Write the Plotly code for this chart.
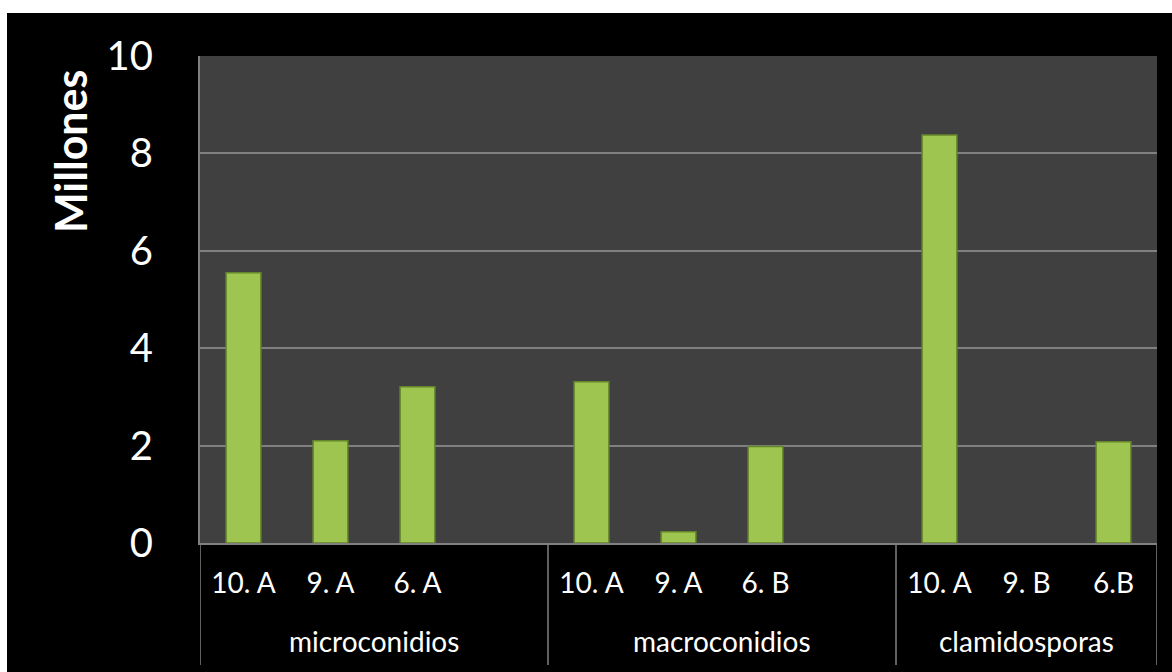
import plotly.graph_objects as go

# ---- data ----
groups = ["microconidios"] * 4 + ["macroconidios"] * 4 + ["clamidosporas"] * 3
labels = ["10. A", "9. A", "6. A", "",
          "10. A", "9. A", "6. B", "",
          "10. A", "9. B", "6.B"]
values = [5.55, 2.10, 3.21, None,
          3.31, 0.23, 1.98, None,
          8.38, None, 2.08]
y_title = "Millones"

# ---- layout geometry (px) ----
W, H = 1172, 672
L, R, T, B = 200, 15, 56, 129
PW, PH = W - L - R, H - T - B

def px_x(p):
    return (p - L) / PW

def px_y(p):
    return (H - B - p) / PH

FONT = "Lato"
GRAY = "#808080"

pos = list(range(len(labels)))

fig = go.Figure()
fig.add_trace(go.Bar(
    x=pos, y=values, width=0.4,
    marker=dict(color="#9EC54F", line=dict(color="#65852B", width=1.5)),
    hoverinfo="y",
))

# group boundaries and labels
shapes = []
annotations = []
start = 0
bounds = [-0.5]
for i in range(1, len(groups) + 1):
    if i == len(groups) or groups[i] != groups[start]:
        center = (start + i - 1) / 2
        annotations.append(dict(
            x=center, xref="x", y=px_y(641), yref="paper",
            text=groups[start], showarrow=False,
            font=dict(family=FONT, size=28, color="white"),
            xanchor="center", yanchor="middle"))
        bounds.append(i - 0.5)
        start = i
for b in bounds:
    shapes.append(dict(type="line", xref="x", yref="paper",
                       x0=b, x1=b, y0=0, y1=px_y(665),
                       line=dict(color=GRAY, width=1.5)))

# white frame strips (top and left)
shapes.append(dict(type="rect", xref="paper", yref="paper",
                   x0=px_x(-5), x1=px_x(W + 5), y0=px_y(13), y1=px_y(-5),
                   fillcolor="white", line=dict(width=0), layer="above"))
shapes.append(dict(type="rect", xref="paper", yref="paper",
                   x0=px_x(-5), x1=px_x(7), y0=px_y(H + 5), y1=px_y(-5),
                   fillcolor="white", line=dict(width=0), layer="above"))

annotations.append(dict(
    x=px_x(70), xref="paper", y=px_y(152), yref="paper",
    text="<b>" + y_title + "</b>", showarrow=False, textangle=-90,
    font=dict(family=FONT, size=43, color="white"),
    xanchor="center", yanchor="middle"))

fig.update_layout(
    width=W, height=H,
    margin=dict(l=L, r=R, t=T, b=B),
    paper_bgcolor="black",
    plot_bgcolor="#404040",
    showlegend=False,
    bargap=0.6,
    shapes=shapes,
    annotations=annotations,
    xaxis=dict(
        type="linear", range=[-0.5, len(labels) - 0.5],
        tickmode="array", tickvals=pos, ticktext=labels,
        showgrid=False, zeroline=False,
        showline=True, linecolor=GRAY, linewidth=2,
        ticks="", ticklabelstandoff=14,
        tickfont=dict(family=FONT, size=28, color="white"),
        fixedrange=True,
    ),
    yaxis=dict(
        range=[0, 10], dtick=2, tick0=0,
        showgrid=True, gridcolor=GRAY, gridwidth=2,
        zeroline=False,
        showline=True, linecolor=GRAY, linewidth=2,
        ticks="", ticklabelstandoff=37,
        tickfont=dict(family=FONT, size=40, color="white"),
        fixedrange=True,
    ),
)

fig.write_html("out.html")
